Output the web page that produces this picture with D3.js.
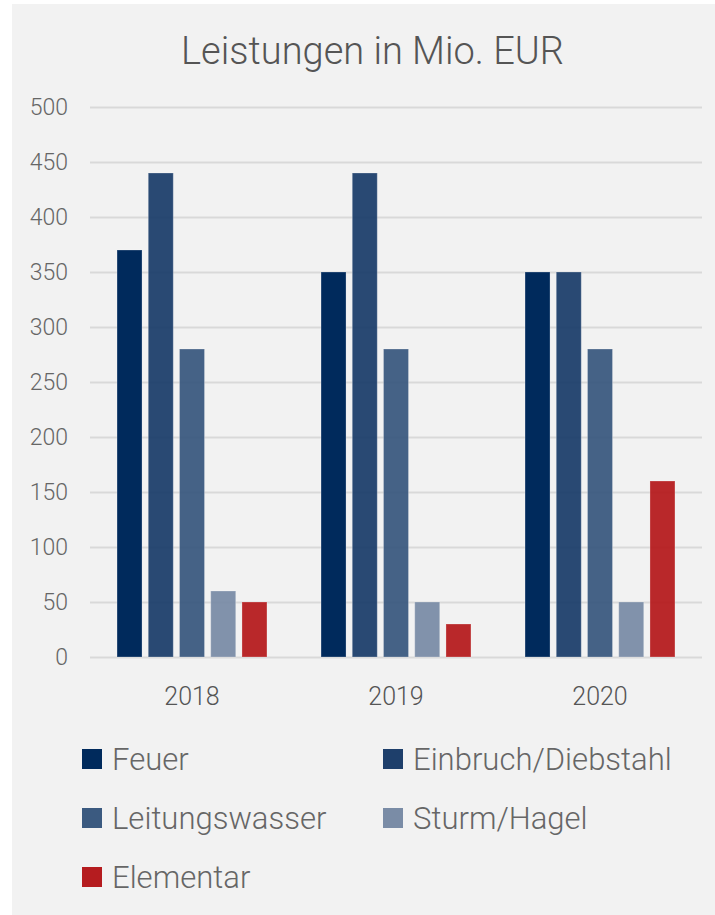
<!DOCTYPE html>
<html>
<head>
<meta charset="utf-8">
<script src="https://cdn.jsdelivr.net/npm/d3@7"></script>
<style>
  html, body { margin: 0; padding: 0; background: #fff; }
  svg { display: block; font-family: Roboto, "DejaVu Sans", sans-serif; font-weight: 300; }
</style>
</head>
<body>
<div id="chart"></div>
<script>
// data
var years = ["2018", "2019", "2020"];
var series = ["Feuer", "Einbruch/Diebstahl", "Leitungswasser", "Sturm/Hagel", "Elementar"];
var feuer = [370, 350, 350];
var einbruch = [440, 440, 350];
var leitungswasser = [280, 280, 280];
var sturm = [60, 50, 50];
var elementar = [50, 30, 160];
var yTicks = [0, 50, 100, 150, 200, 250, 300, 350, 400, 450, 500];
var colors = ["#002a5c", "#1e3f6b", "#3b5a80", "#7a8ca6", "#b51c1f"];

var values = [feuer, einbruch, leitungswasser, sturm, elementar];

var width = 715, height = 915;
var margin = {top: 107, right: 13, bottom: 258, left: 90};

var svg = d3.select("#chart").append("svg")
    .attr("width", width)
    .attr("height", height);

// panel background
svg.append("rect")
    .attr("x", 12).attr("y", 4)
    .attr("width", width - 12).attr("height", height - 4)
    .attr("fill", "#f2f2f2");

svg.append("text")
    .attr("transform", "translate(372.5,64)")
    .attr("text-anchor", "middle")
    .attr("font-size", 38)
    .attr("fill", "#555")
    .text("Leistungen in Mio. EUR");

var x0 = d3.scaleBand()
    .domain(years)
    .range([margin.left, width - margin.right])
    .paddingInner(0.265)
    .paddingOuter(0.1325);

var x1 = d3.scaleBand()
    .domain(series)
    .range([0, x0.bandwidth()])
    .paddingInner(0.2)
    .paddingOuter(0);

var y = d3.scaleLinear()
    .domain([0, 500])
    .range([height - margin.bottom, margin.top]);

// grid
var yAxis = svg.append("g")
    .attr("transform", "translate(" + margin.left + ",0)")
    .call(d3.axisLeft(y).tickValues(yTicks).tickSize(-(width - margin.left - margin.right)).tickPadding(22));

yAxis.select(".domain").remove();
yAxis.selectAll("line").attr("stroke", "#d9d9d9").attr("stroke-width", 2);
yAxis.selectAll("text")
    .attr("font-size", 23)
    .attr("fill", "#666")
    .attr("font-family", "Roboto, sans-serif")
    .attr("font-weight", 300);

// bars
var groups = svg.append("g").selectAll("g")
    .data(years)
  .enter().append("g")
    .attr("transform", function(d) { return "translate(" + x0(d) + ",0)"; });

groups.selectAll("rect")
    .data(function(d, i) {
      return series.map(function(s, j) { return {key: s, value: values[j][i], idx: j}; });
    })
  .enter().append("rect")
    .attr("x", function(d) { return x1(d.key); })
    .attr("y", function(d) { return y(d.value); })
    .attr("width", x1.bandwidth())
    .attr("height", function(d) { return y(0) - y(d.value); })
    .attr("fill", function(d) { return colors[d.idx]; })
    .attr("fill-opacity", function(d) { return d.idx === 0 ? 1 : 0.95; })
    .attr("stroke", "#ffffff")
    .attr("stroke-opacity", 0.25)
    .attr("stroke-width", 1);

// x labels
var xAxis = svg.append("g")
    .attr("transform", "translate(0," + (height - margin.bottom) + ")")
    .call(d3.axisBottom(x0).tickSize(0).tickPadding(30));
xAxis.select(".domain").remove();
xAxis.selectAll("text")
    .attr("font-size", 25)
    .attr("fill", "#555")
    .attr("font-family", "Roboto, sans-serif")
    .attr("font-weight", 300);

// legend
var legend = svg.append("g").selectAll("g")
    .data(series)
  .enter().append("g")
    .attr("transform", function(d, i) {
      return "translate(" + (82 + (i % 2) * 301) + "," + (749 + Math.floor(i / 2) * 59) + ")";
    });

legend.append("rect")
    .attr("width", 20)
    .attr("height", 20)
    .attr("fill", function(d, i) { return colors[i]; });

legend.append("text")
    .attr("transform", "translate(30,21) scale(0.97,1)")
    .attr("font-size", 32)
    .attr("fill", "#666")
    .text(function(d) { return d; });
</script>
</body>
</html>
